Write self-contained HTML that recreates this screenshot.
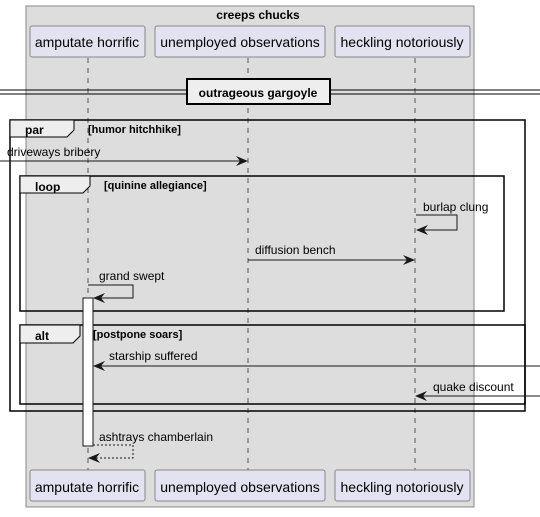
<!DOCTYPE html>
<html><head><meta charset="utf-8"><style>
body{margin:0;background:#fff}
svg text{font-family:"Liberation Sans",sans-serif}
</style></head><body>
<svg width="540" height="512" viewBox="0 0 540 512" xmlns="http://www.w3.org/2000/svg">
<defs>
<marker id="ah" viewBox="0 0 12 10" refX="11" refY="5" markerWidth="12" markerHeight="10" orient="auto-start-reverse" markerUnits="userSpaceOnUse">
<path d="M0,0 L12,5 L0,10 L4,5 Z" fill="#181818"/></marker>
</defs>
<g>
<rect x="26" y="6" width="448" height="501" fill="#dddddd" stroke="#888" stroke-width="1"/>
<text x="258" y="19" font-size="12" font-weight="bold" text-anchor="middle">creeps chucks</text>
</g>
<g stroke="#555" stroke-dasharray="5,5" stroke-width="1">
<line x1="88" y1="58" x2="88" y2="470"/><line x1="248" y1="58" x2="248" y2="470"/><line x1="415" y1="58" x2="415" y2="470"/>
</g>
<g font-size="14" text-anchor="middle">
<g><rect x="30" y="26" width="115" height="31" rx="2" fill="#e2e2f0" stroke="#888"/><text x="87" y="47">amputate horrific</text></g>
<g><rect x="155" y="26" width="170" height="31" rx="2" fill="#e2e2f0" stroke="#888"/><text x="240" y="47">unemployed observations</text></g>
<g><rect x="335" y="26" width="135" height="31" rx="2" fill="#e2e2f0" stroke="#888"/><text x="402" y="47">heckling notoriously</text></g>
<g><rect x="30" y="470" width="115" height="31" rx="2" fill="#e2e2f0" stroke="#888"/><text x="87" y="492">amputate horrific</text></g>
<g><rect x="155" y="470" width="170" height="31" rx="2" fill="#e2e2f0" stroke="#888"/><text x="240" y="492">unemployed observations</text></g>
<g><rect x="335" y="470" width="135" height="31" rx="2" fill="#e2e2f0" stroke="#888"/><text x="402" y="492">heckling notoriously</text></g>
</g>
<g>
<line x1="0" y1="90" x2="540" y2="90" stroke="#000"/><line x1="0" y1="94" x2="540" y2="94" stroke="#000"/>
<rect x="187" y="79" width="143" height="25" fill="#eee" stroke="#000" stroke-width="2"/>
<text x="258" y="97" font-size="12" font-weight="bold" text-anchor="middle">outrageous gargoyle</text>
</g>
<g>
<rect x="10" y="120" width="515" height="291" fill="none" stroke="#000" stroke-width="1.5"/>
<path d="M10,120 H74 V130 L67,137 H10 Z" fill="#eee" stroke="#000"/>
<text x="25" y="134" font-size="12" font-weight="bold">par</text>
<text x="88" y="133" font-size="11" font-weight="bold">[humor hitchhike]</text>
</g>
<g>
<line x1="0" y1="161" x2="247" y2="161" stroke="#181818" marker-end="url(#ah)"/>
<text x="7" y="156" font-size="12">driveways bribery</text>
</g>
<g>
<rect x="20" y="176" width="484" height="135" fill="none" stroke="#000" stroke-width="1.5"/>
<path d="M20,176 H90 V186 L83,193 H20 Z" fill="#eee" stroke="#000"/>
<text x="35" y="191" font-size="12" font-weight="bold">loop</text>
<text x="104" y="189" font-size="11" font-weight="bold">[quinine allegiance]</text>
</g>
<g>
<path d="M416,215 H457 V230 H417" fill="none" stroke="#181818" marker-end="url(#ah)"/>
<text x="423" y="211" font-size="12">burlap clung</text>
</g>
<g>
<line x1="248" y1="260" x2="414" y2="260" stroke="#181818" marker-end="url(#ah)"/>
<text x="255" y="254" font-size="12">diffusion bench</text>
</g>
<g>
<path d="M88,285 H133 V298 H94" fill="none" stroke="#181818" marker-end="url(#ah)"/>
<text x="99" y="280" font-size="12">grand swept</text>
</g>
<g>
<rect x="20" y="325" width="505" height="79" fill="none" stroke="#000" stroke-width="1.5"/>
<path d="M20,325 H80 V336 L73,343 H20 Z" fill="#eee" stroke="#000"/>
<text x="35" y="340" font-size="12" font-weight="bold">alt</text>
<text x="93" y="338" font-size="11" font-weight="bold">[postpone soars]</text>
</g>
<rect x="83" y="298" width="10" height="148" fill="#fff" stroke="#181818"/>
<g>
<line x1="540" y1="366" x2="94" y2="366" stroke="#181818" marker-end="url(#ah)"/>
<text x="109" y="360" font-size="12">starship suffered</text>
</g>
<g>
<line x1="540" y1="396" x2="416" y2="396" stroke="#181818" marker-end="url(#ah)"/>
<text x="433" y="391" font-size="12">quake discount</text>
</g>
<g>
<path d="M93,445 H133 V458 H89" fill="none" stroke="#181818" stroke-dasharray="2,2" marker-end="url(#ah)"/>
<text x="99" y="441" font-size="12">ashtrays chamberlain</text>
</g>
</svg>
</body></html>
